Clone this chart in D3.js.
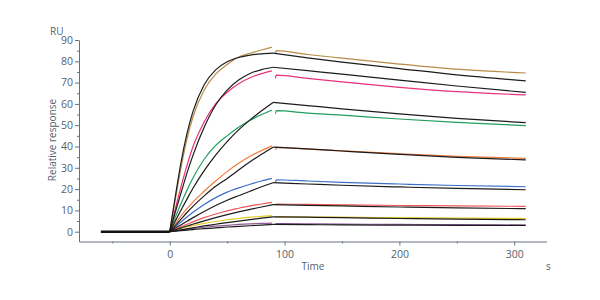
<!DOCTYPE html>
<html><head><meta charset="utf-8">
<script src="https://cdn.jsdelivr.net/npm/d3@7"></script>
<style>
body{margin:0;background:#fff;}
svg{display:block;font-family:"Open Sans",sans-serif;}
</style></head>
<body><svg id="c" width="600" height="300"></svg>
<script>
// ---- data ----
const yTicks = [0,10,20,30,40,50,60,70,80,90];
const yMinor = [5,15,25,35,45,55,65,75,85];
const xTicks = [0,100,200,300];
const xMinor = [-50,50,150,250];
const baselineTimes = [-60, 0];

const seriesColors = ["#b88a45","#e8307c","#1f9e5c","#f07a3c","#3c6fc6","#f05656","#e2cc22","#8e5a9c"];

// measured (coloured) association phase
const measAssocTimes = [0,5,10,15,20,30,40,50,60,70,80,89];
const measAssoc = [
  [0,15.5,30.5,43.5,53.5,66.5,74,78.5,82.0,83.8,85.3,86.6],
  [0,11,21.5,31,39.5,51.5,60,65.5,69.5,72.3,74.2,75.5],
  [0,7,13.5,19.5,25,34,40.5,45,49,52.3,55,57],
  [0,3.8,7.5,10.8,13.8,19,23.8,28.2,32.1,35.4,38.1,40.3],
  [0,2.4,4.7,6.9,9.0,12.8,16.0,18.6,20.6,22.3,23.8,25.0],
  [0,1.2,2.4,3.5,4.6,6.6,8.3,9.8,11.0,12.1,13.0,13.8],
  [0,0.8,1.5,2.2,2.8,3.9,4.8,5.6,6.2,6.8,7.2,7.5],
  [0,0.4,0.8,1.2,1.5,2.1,2.6,3.0,3.4,3.7,3.9,4.0]
];
// measured dissociation phase (first point = injection spike)
const measDissTimes = [92.2,92.6,120,150,200,250,310];
const measDiss = [
  [83.6,85.0,83.2,81.5,78.7,76.3,74.5],
  [72.0,73.5,72.0,70.3,67.8,65.8,64.2],
  [55.4,56.8,55.7,54.7,52.9,51.3,49.8],
  [38.4,39.6,38.8,37.9,36.6,35.4,34.4],
  [23.4,24.4,23.8,23.2,22.4,21.7,21.1],
  [12.4,13.0,12.8,12.6,12.3,12.1,11.9],
  [6.6,7.0,6.9,6.8,6.6,6.4,6.2],
  [3.6,3.8,3.7,3.6,3.4,3.3,3.2]
];
// fitted (black) curves
const fitAssocTimes = [0,5,10,15,20,30,40,50,60,70,80,90];
const fitAssoc = [
  [0,17,33,46,56,69,76,79.8,81.8,82.9,83.5,83.8],
  [0,9.5,18.5,27.5,35.5,49,59.5,66.5,71.2,74.3,76.1,77.2],
  [0,5.2,10.3,15.3,20.2,28.7,36,42.3,47.8,52.5,56.8,60.7],
  [0,3,6,9,11.8,16.8,21.3,25.0,29.0,32.8,36.4,39.7],
  [0,1.7,3.3,4.9,6.5,9.5,12.3,14.8,16.9,19.0,21.1,23.0],
  [0,0.9,1.8,2.7,3.5,5.1,6.6,8.0,9.3,10.5,11.6,12.7],
  [0,0.45,0.9,1.35,1.8,2.7,3.5,4.3,5.0,5.7,6.4,7.0],
  [0,0.25,0.5,0.75,1.0,1.4,1.8,2.2,2.5,2.8,3.1,3.4]
];
const fitDissTimes = [90,120,150,200,250,310];
const fitDiss = [
  [83.8,81.6,79.6,76.6,73.6,70.8],
  [77.2,75.6,74.0,71.2,68.4,65.4],
  [60.7,59.2,57.7,55.3,53.2,51.2],
  [39.7,38.9,37.9,36.3,34.9,33.7],
  [23.0,22.4,21.8,21.0,20.3,19.7],
  [12.7,12.4,12.1,11.6,11.2,10.8],
  [7.0,6.8,6.6,6.2,5.9,5.6],
  [3.4,3.3,3.2,3.1,3.0,2.9]
];

// ---- drawing ----
const svg = d3.select("#c");
const x = d3.scaleLinear().domain([-79, 328]).range([79, 546.4]);
const y = d3.scaleLinear().domain([-4.6, 90]).range([241.5, 40]);
const textCol = "#56616d", lineCol = "#66717c";

const line = d3.line().x(d => x(d[0])).y(d => y(d[1])).curve(d3.curveMonotoneX);
const zipT = (ts, vs) => ts.map((t, i) => [t, vs[i]]);

const g = svg.append("g");
// measured curves
measAssoc.forEach((vals, i) => {
  g.append("path").attr("d", line(zipT(measAssocTimes, vals)))
    .attr("fill","none").attr("stroke", seriesColors[i]).attr("stroke-width",1.2);
  g.append("path").attr("d", line(zipT(measDissTimes, measDiss[i])))
    .attr("fill","none").attr("stroke", seriesColors[i]).attr("stroke-width",1.2);
});
// fits
fitAssoc.forEach((vals, i) => {
  g.append("path").attr("d", line(zipT(fitAssocTimes, vals)))
    .attr("fill","none").attr("stroke","#1c1c1c").attr("stroke-width",1.2);
  g.append("path").attr("d", line(zipT(fitDissTimes, fitDiss[i])))
    .attr("fill","none").attr("stroke","#1c1c1c").attr("stroke-width",1.2);
});
// baseline (all curves overlap here)
g.append("path").attr("d", d3.line().x(d=>x(d)).y(()=>y(0))(baselineTimes))
  .attr("fill","none").attr("stroke","#111").attr("stroke-width",2.6);

// axes
svg.append("g").attr("transform","translate(79,0)")
  .call(d3.axisLeft(y).tickValues(yTicks).tickSize(4).tickSizeOuter(0).tickPadding(2));
svg.append("g").attr("transform","translate(79,0)")
  .call(d3.axisLeft(y).tickValues(yMinor).tickSize(2).tickFormat("")).select(".domain").remove();
svg.append("g").attr("transform","translate(0,241.5)")
  .call(d3.axisBottom(x).tickValues(xTicks).tickSize(4).tickSizeOuter(0).tickPadding(5));
svg.append("g").attr("transform","translate(0,241.5)")
  .call(d3.axisBottom(x).tickValues(xMinor).tickSize(2).tickFormat("")).select(".domain").remove();

svg.selectAll(".domain, .tick line").attr("stroke", lineCol);
svg.selectAll(".tick text").attr("fill", textCol).style("font-size","10.5px").style("font-family","'Open Sans',sans-serif");

svg.append("text").attr("x",50).attr("y",35).text("RU")
  .attr("fill",textCol).style("font-size","10px");
svg.append("text").attr("transform","translate(56,140) rotate(-90)").attr("text-anchor","middle")
  .text("Relative response").attr("fill",textCol).style("font-size","10px");
svg.append("text").attr("x",313).attr("y",270).attr("text-anchor","middle").text("Time")
  .attr("fill",textCol).style("font-size","10px");
svg.append("text").attr("x",546).attr("y",270).text("s")
  .attr("fill",textCol).style("font-size","10px");
</script></body></html>
